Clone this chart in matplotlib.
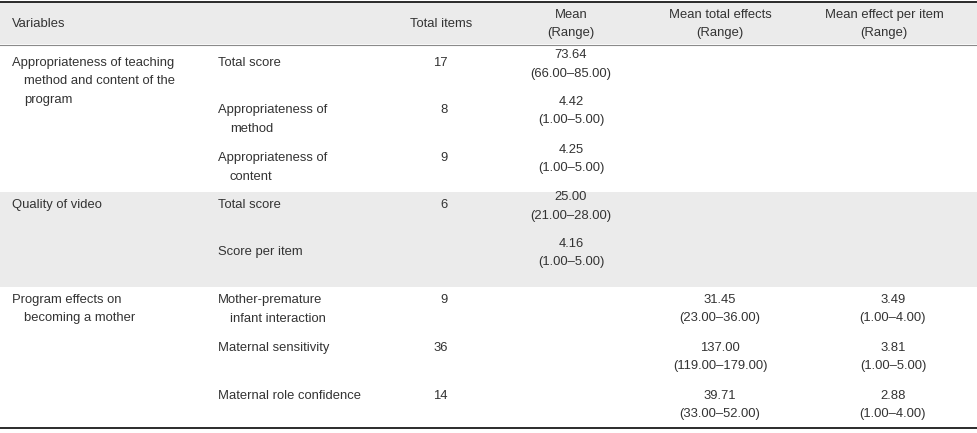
import matplotlib
matplotlib.use("Agg")
from matplotlib import pyplot as plt

W, H = 977, 433

# table content
headers = ["Variables", "Total items", "Mean\n(Range)",
           "Mean total effects\n(Range)", "Mean effect per item\n(Range)"]

groups = [
    ["Appropriateness of teaching", "method and content of the", "program"],
    ["Quality of video"],
    ["Program effects on", "becoming a mother"],
]
group_rows = [3, 2, 3]
group_shaded = [False, True, False]

items = [
    ["Total score"],
    ["Appropriateness of", "method"],
    ["Appropriateness of", "content"],
    ["Total score"],
    ["Score per item"],
    ["Mother-premature", "infant interaction"],
    ["Maternal sensitivity"],
    ["Maternal role confidence"],
]
total_items = ["17", "8", "9", "6", "", "9", "36", "14"]
mean_vals = ["73.64", "4.42", "4.25", "25.00", "4.16", "", "", ""]
mean_ranges = ["(66.00–85.00)", "(1.00–5.00)", "(1.00–5.00)", "(21.00–28.00)",
               "(1.00–5.00)", "", "", ""]
total_eff = ["", "", "", "", "", "31.45", "137.00", "39.71"]
total_eff_ranges = ["", "", "", "", "", "(23.00–36.00)", "(119.00–179.00)",
                    "(33.00–52.00)"]
item_eff = ["", "", "", "", "", "3.49", "3.81", "2.88"]
item_eff_ranges = ["", "", "", "", "", "(1.00–4.00)", "(1.00–5.00)", "(1.00–4.00)"]

# layout (pixels)
row_y = [63, 110, 158, 205, 252, 300, 348, 396]
group_top = [44, 192, 287]
table_bottom = 428
line_h = 18.5
col_var, col_item, col_n = 12, 218, 448
col_mean, col_tot, col_per = 571, 720, 893
indent = 12

plt.rcParams['font.family'] = ['Liberation Sans', 'DejaVu Sans']
fs = 9.4
tc = '#333333'

fig = plt.figure(figsize=(W / 100, H / 100), dpi=100)
ax = fig.add_axes([0, 0, 1, 1])
ax.set_xlim(0, W)
ax.set_ylim(H, 0)
ax.axis('off')

# backgrounds
ax.axhspan(2, 44, color='#ebebeb', lw=0)
bounds = group_top + [table_bottom]
for i, shaded in enumerate(group_shaded):
    if shaded:
        ax.axhspan(bounds[i], bounds[i + 1], color='#ebebeb', lw=0)

ax.axhline(1.5, color='#1a1a1a', lw=1.3)
ax.axhline(44.5, color='#8a8a8a', lw=0.8)
ax.axhline(table_bottom, color='#1a1a1a', lw=1.3)

# header
ax.text(col_var, 24, headers[0], fontsize=fs, color=tc, va='center')
ax.text(472, 24, headers[1], fontsize=fs, color=tc, va='center', ha='right')
for x, h in zip([col_mean, col_tot, 884], headers[2:]):
    for k, ln in enumerate(h.split("\n")):
        ax.text(x, 15 + k * 18, ln, fontsize=fs, color=tc, va='center', ha='center')

def lines(x, y, parts, ind=0, ha='left'):
    for k, ln in enumerate(parts):
        ax.text(x + (ind if k > 0 else 0), y + k * line_h, ln, fontsize=fs,
                color=tc, va='center', ha=ha)

# body
r = 0
for g, n in zip(groups, group_rows):
    lines(col_var, row_y[r], g, indent)
    r += n

for i in range(len(items)):
    y = row_y[i]
    lines(col_item, y, items[i], indent)
    ax.text(col_n, y, total_items[i], fontsize=fs, color=tc, va='center', ha='right')
    if mean_vals[i]:
        lines(col_mean, y - 8, [mean_vals[i], mean_ranges[i]], ha='center')
    if total_eff[i]:
        lines(col_tot, y, [total_eff[i], total_eff_ranges[i]], ha='center')
    if item_eff[i]:
        lines(col_per, y, [item_eff[i], item_eff_ranges[i]], ha='center')

fig.savefig('out.png', dpi=100)
